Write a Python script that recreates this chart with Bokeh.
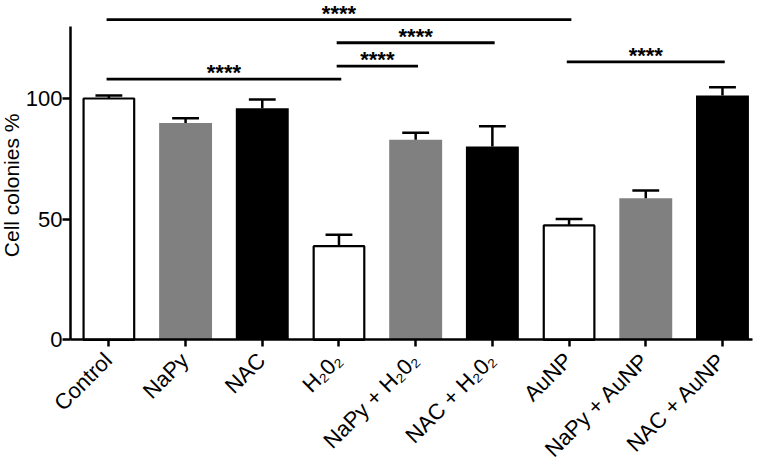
import math
from bokeh.plotting import figure
from bokeh.models import FixedTicker, Range1d
from bokeh.core.properties import value
from bokeh.embed import file_html
from bokeh.resources import INLINE

categories = ["Control", "NaPy", "NAC", "H₂0₂", "NaPy + H₂0₂", "NAC + H₂0₂",
              "AuNP", "NaPy + AuNP", "NAC + AuNP"]
means = [100.0, 89.8, 96.0, 38.8, 82.9, 80.1, 47.4, 58.7, 101.2]
errors = [1.2, 2.0, 3.6, 4.7, 2.9, 8.4, 2.7, 3.2, 3.5]
fills = ["white", "gray", "black", "white", "gray", "black", "white", "gray", "black"]
y_ticks = [0, 50, 100]
y_title = "Cell colonies %"

# significance brackets: group index from, group index to, height, label
sig_from = [0, 3, 3, 0, 6]
sig_to = [6, 5, 4, 3, 8]
sig_y = [132.7, 123.1, 113.4, 108.0, 115.2]
sig_label = ["****", "****", "****", "****", "****"]

FONT = "Liberation Sans"

xs = [i + 0.5 for i in range(len(categories))]

p = figure(width=765, height=466, x_range=Range1d(-0.913, 9.061), y_range=Range1d(-52.5, 140.6),
           output_backend="svg", toolbar_location=None,
           min_border_left=0, min_border_top=0, min_border_right=0, min_border_bottom=0)
p.grid.visible = False
p.outline_line_color = None
p.background_fill_color = "white"

# bars
for fill in ["white", "gray", "black"]:
    bx = [x for x, f in zip(xs, fills) if f == fill]
    bt = [m for m, f in zip(means, fills) if f == fill]
    if fill == "white":
        p.vbar(x=bx, top=bt, bottom=0, width=0.66, fill_color="white",
               line_color="black", line_width=2.2)
    else:
        p.vbar(x=bx, top=bt, bottom=0, width=0.69,
               fill_color="#808080" if fill == "gray" else "black", line_color=None)

# error bars (upper only)
tops = [m + e for m, e in zip(means, errors)]
p.segment(x0=xs, y0=means, x1=xs, y1=tops, line_color="black", line_width=2.5)
p.segment(x0=[x - 0.175 for x in xs], y0=tops, x1=[x + 0.175 for x in xs], y1=tops,
          line_color="black", line_width=2.5)

# significance lines
x0s = [xs[i] - 0.03 for i in sig_from]
x1s = [xs[j] + 0.03 for j in sig_to]
p.segment(x0=x0s, y0=sig_y, x1=x1s, y1=sig_y, line_color="black", line_width=2.8)
p.text(x=[(a + b) / 2 for a, b in zip(x0s, x1s)], y=[y + 7.9 for y in sig_y], text=sig_label,
       text_font=value(FONT), text_font_size="22px", text_font_style="bold",
       text_align="center", text_baseline="top", text_color="black")

# x axis (crossing at y = 0)
xa = p.xaxis[0]
xa.fixed_location = 0
xa.ticker = FixedTicker(ticks=xs)
xa.major_label_overrides = {x: "" for x in xs}
xa.bounds = (0, 8.89)
xa.axis_line_width = 2.5
xa.major_tick_line_width = 2.5
xa.major_tick_out = 7
xa.major_tick_in = 0
xa.minor_tick_out = 0
xa.minor_tick_in = 0
xa.major_label_standoff = 0

# category labels
p.text(x=[x - 0.125 for x in xs], y=[-3.3] * len(xs), text=categories, angle=math.pi / 4,
       text_align="right", text_baseline="top", text_font=value(FONT),
       text_font_size="22px", text_color="black")

# y axis (crossing at x = 0)
ya = p.yaxis[0]
ya.fixed_location = 0
ya.ticker = FixedTicker(ticks=y_ticks)
ya.bounds = (0, 130)
ya.axis_line_width = 2.5
ya.major_tick_line_width = 2.5
ya.major_tick_out = 8
ya.major_tick_in = 0
ya.minor_tick_out = 0
ya.minor_tick_in = 0
ya.major_label_text_font = FONT
ya.major_label_text_font_size = "22px"
ya.major_label_text_color = "black"
ya.major_label_standoff = 0

p.text(x=[-0.77], y=[64.0], text=[y_title], angle=math.pi / 2,
       text_align="center", text_baseline="alphabetic", text_font=value(FONT),
       text_font_size="21px", text_color="black")

open("out.html", "w").write(file_html(p, INLINE))
